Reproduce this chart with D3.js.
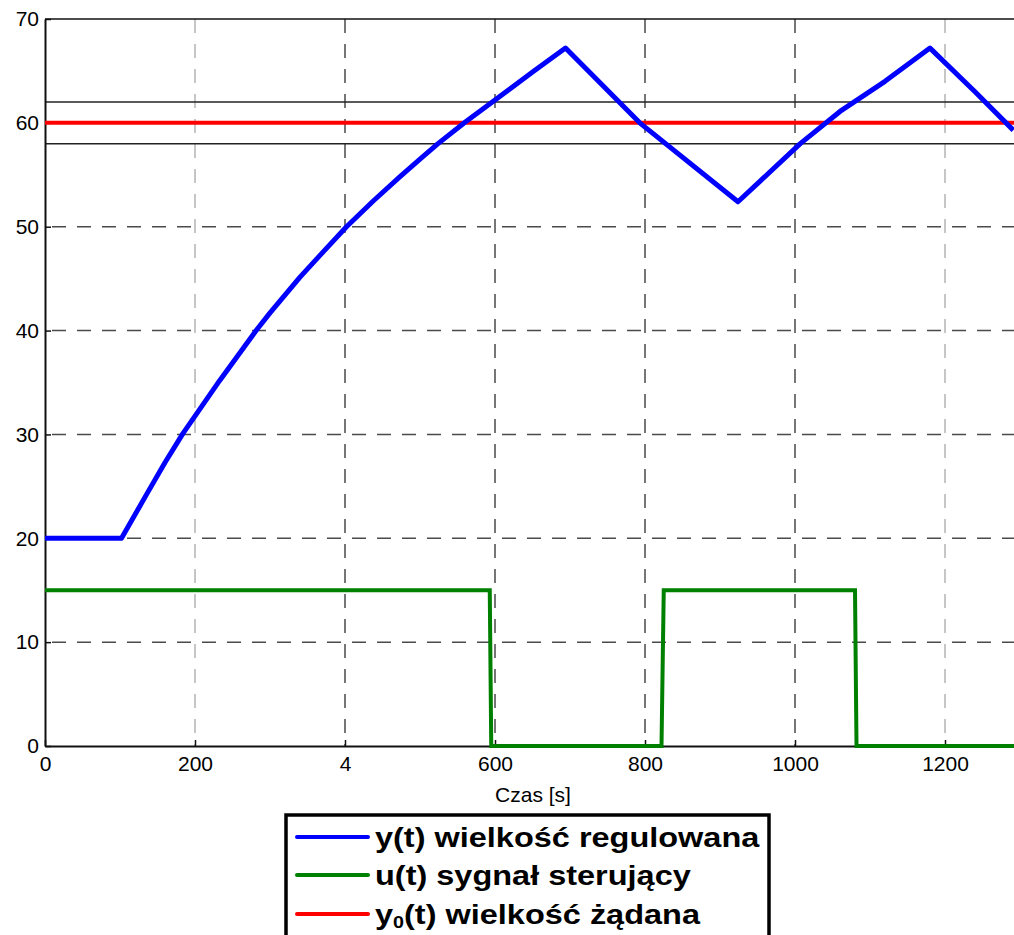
<!DOCTYPE html>
<html>
<head>
<meta charset="utf-8">
<script src="https://cdn.jsdelivr.net/npm/d3@7"></script>
<style>
  body { margin: 0; background: #fff; }
  svg { display: block; font-family: "Liberation Sans", Arial, sans-serif; }
</style>
</head>
<body>
<svg id="chart" width="1014" height="935"></svg>
<script>
// time [s] and controlled value y(t)
var yTime = [0, 102, 136, 160, 184, 233, 282, 300, 340, 370, 402, 438, 473, 500, 524, 560, 600, 651, 694, 793, 924, 1007, 1060, 1120, 1180, 1240, 1291];
var yValue = [20, 20, 24.3, 27.3, 30.1, 35.2, 40.05, 41.7, 45.15, 47.5, 50.0, 52.5, 54.8, 56.5, 58.0, 60.05, 62.2, 64.95, 67.2, 60.0, 52.4, 58.0, 61.1, 64.0, 67.2, 63.0, 59.3];
// control signal u(t)
var uTime = [0, 593, 595, 822, 825, 1080, 1082, 1300];
var uValue = [15, 15, 0, 0, 15, 15, 0, 0];
// setpoint and hysteresis band
var setpoint = 60;
var band = [58, 62];
var xTicks = [0, 200, 400, 600, 800, 1000, 1200];
var xTickLabels = ["0", "200", "4", "600", "800", "1000", "1200"];
var yTicks = [0, 10, 20, 30, 40, 50, 60, 70];
var lightGridX = [200, 1200];
var legendLabels = ["y(t) wielkość regulowana", "u(t) sygnał sterujący", "y0(t) wielkość żądana"];
var legendColors = ["#0000ff", "#008000", "#ff0000"];

var svg = d3.select("#chart");
var x = d3.scaleLinear().domain([0, 1300]).range([45, 1020]);
var y = d3.scaleLinear().domain([0, 70]).range([746, 19]);

// grid
var grid = svg.append("g");
grid.selectAll("line.gx")
  .data(xTicks.filter(function (d) { return d > 0; }))
  .enter().append("line")
  .attr("x1", function (d) { return x(d); })
  .attr("x2", function (d) { return x(d); })
  .attr("y1", y(70)).attr("y2", y(0))
  .attr("stroke", function (d) { return lightGridX.indexOf(d) >= 0 ? "#b4b4b4" : "#4a4a4a"; })
  .attr("stroke-width", 1.5)
  .attr("stroke-dasharray", "14,11");
grid.selectAll("line.gy")
  .data(yTicks.filter(function (d) { return d > 0 && d < 60; }))
  .enter().append("line")
  .attr("x1", x(0) + 7).attr("x2", 1014)
  .attr("y1", function (d) { return y(d); })
  .attr("y2", function (d) { return y(d); })
  .attr("stroke", "#4a4a4a")
  .attr("stroke-width", 1.5)
  .attr("stroke-dasharray", "14,11");

// top border
svg.append("line")
  .attr("x1", x(0)).attr("x2", 1014)
  .attr("y1", y(70)).attr("y2", y(70))
  .attr("stroke", "#111").attr("stroke-width", 1.5);

// band lines
svg.selectAll("line.band")
  .data(band)
  .enter().append("line")
  .attr("x1", x(0)).attr("x2", 1014)
  .attr("y1", function (d) { return y(d); })
  .attr("y2", function (d) { return y(d); })
  .attr("stroke", "#222").attr("stroke-width", 1.5);

// axes
var xAxis = d3.axisBottom(x).tickValues(xTicks)
  .tickFormat(function (d, i) { return xTickLabels[i]; })
  .tickSizeInner(-6).tickSizeOuter(0).tickPadding(10);
var yAxis = d3.axisLeft(y).tickValues(yTicks)
  .tickSizeInner(-6).tickSizeOuter(0).tickPadding(6);

var gx = svg.append("g").attr("transform", "translate(0," + y(0) + ")").call(xAxis);
var gy = svg.append("g").attr("transform", "translate(" + x(0) + ",0)").call(yAxis);
[gx, gy].forEach(function (g) {
  g.select(".domain").attr("stroke", "#111").attr("stroke-width", 2);
  g.selectAll(".tick line").attr("stroke", "#111").attr("stroke-width", 1.5);
  g.selectAll(".tick text").attr("fill", "#000").style("font-size", "21px")
    .style("font-family", "'Liberation Sans', Arial, sans-serif");
});

svg.append("text")
  .attr("x", 533).attr("y", 802)
  .attr("text-anchor", "middle")
  .style("font-size", "21px")
  .text("Czas [s]");

// setpoint
svg.append("line")
  .attr("x1", x(0)).attr("x2", 1014)
  .attr("y1", y(setpoint)).attr("y2", y(setpoint))
  .attr("stroke", "#ff0000").attr("stroke-width", 4);

var line = d3.line()
  .x(function (d) { return x(d[0]); })
  .y(function (d) { return y(d[1]); });

svg.append("path")
  .datum(d3.zip(uTime, uValue))
  .attr("d", line)
  .attr("fill", "none")
  .attr("stroke", "#008000")
  .attr("stroke-width", 4);

svg.append("path")
  .datum(d3.zip(yTime, yValue))
  .attr("d", line)
  .attr("fill", "none")
  .attr("stroke", "#0000ff")
  .attr("stroke-width", 5)
  .attr("stroke-linejoin", "round");

// legend
var legend = svg.append("g");
legend.append("rect")
  .attr("x", 286).attr("y", 815)
  .attr("width", 483).attr("height", 140)
  .attr("fill", "#fff").attr("stroke", "#000").attr("stroke-width", 3.5);

var rows = legend.selectAll("g.row")
  .data(legendLabels)
  .enter().append("g")
  .attr("transform", function (d, i) { return "translate(0," + [837, 875, 914][i] + ")"; });
rows.append("line")
  .attr("x1", 297).attr("x2", 368)
  .attr("stroke", function (d, i) { return legendColors[i]; })
  .attr("stroke-width", 4).attr("stroke-linecap", "round");
var texts = rows.append("text")
  .attr("transform", "translate(375,0) scale(1.16,1)")
  .attr("dy", "0.36em")
  .style("font-size", "28px").style("font-weight", "bold")
  .attr("fill", "#000");
texts.each(function (d, i) {
  var t = d3.select(this);
  if (i === 2) {
    t.append("tspan").text("y");
    t.append("tspan").attr("dy", "0.25em").style("font-size", "17px").text("0");
    t.append("tspan").attr("dy", "-0.16em").text(d.slice(2));
  } else {
    t.text(d);
  }
});
</script>
</body>
</html>
